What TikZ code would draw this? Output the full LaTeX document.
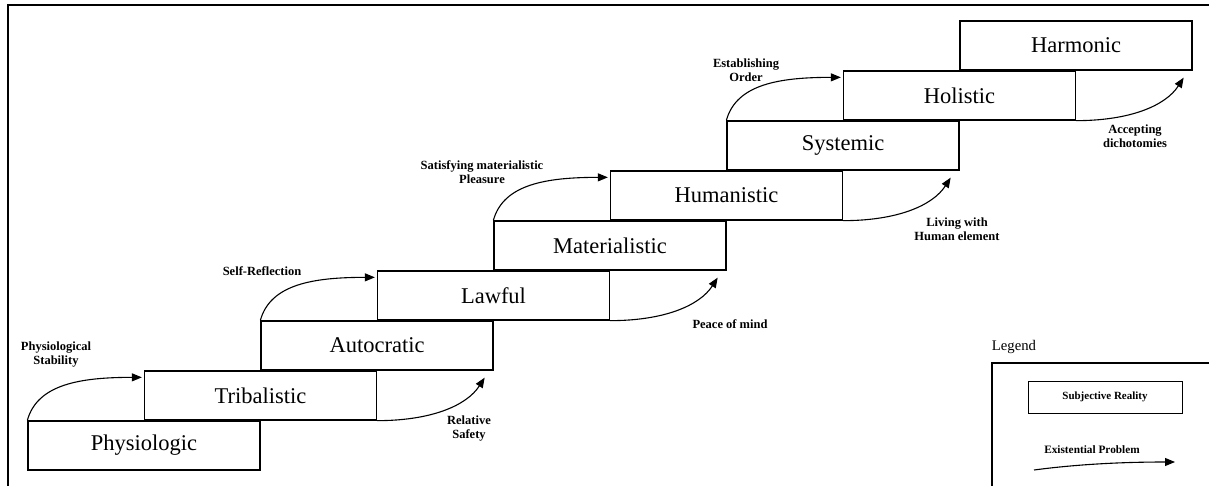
\documentclass[tikz,border=0pt]{standalone}
\usepackage{fontspec}
\setmainfont{Liberation Serif}
\usetikzlibrary{arrows.meta,calc}
\begin{document}
\begin{tikzpicture}[x=1pt,y=-1pt,
  stage/.style={draw, line width=1.3pt, minimum width=232pt, minimum height=49pt, inner sep=0pt, font=\fontsize{22.5}{27}\selectfont},
  lab/.style={font=\bfseries\fontsize{12.5}{14}\selectfont, align=center, inner sep=0pt},
  prob/.style={line width=1.1pt, -{Triangle[length=10pt,width=8pt]}},
]
\useasboundingbox (0,0) rectangle (1209,486);
\draw[line width=1.5pt] (1209,5) -- (8,5) -- (8,486);

\node[stage] (phys) at (144,445.5) {Physiologic};
\node[stage] (trib) at (260.5,395.5) {Tribalistic};
\node[stage] (auto) at (377,345.5) {Autocratic};
\node[stage] (law) at (493.5,295.5) {Lawful};
\node[stage] (mat) at (610,245.5) {Materialistic};
\node[stage] (hum) at (726.5,195.5) {Humanistic};
\node[stage] (sys) at (843,145.5) {Systemic};
\node[stage] (hol) at (959.5,95.5) {Holistic};
\node[stage] (harm) at (1076,45.5) {Harmonic};

% up arrows
\draw[prob] (phys.north west) .. controls +(10,-36) and +(-62,0) .. ($(trib.north west)+(-2,7)$);
\draw[prob] (auto.north west) .. controls +(10,-36) and +(-62,0) .. ($(law.north west)+(-2,7)$);
\draw[prob] (mat.north west) .. controls +(10,-36) and +(-62,0) .. ($(hum.north west)+(-2,7)$);
\draw[prob] (sys.north west) .. controls +(10,-36) and +(-62,0) .. ($(hol.north west)+(-2,7)$);

% right arrows
\draw[prob] (trib.south east) .. controls +(54,0) and +(-18,28) .. ($(auto.south east)+(-9,7)$);
\draw[prob] (law.south east) .. controls +(54,0) and +(-18,28) .. ($(mat.south east)+(-9,7)$);
\draw[prob] (hum.south east) .. controls +(54,0) and +(-18,28) .. ($(sys.south east)+(-9,7)$);
\draw[prob] (hol.south east) .. controls +(54,0) and +(-18,28) .. ($(harm.south east)+(-9,7)$);

% labels
\node[lab] (l1) at (56,355) {Physiological\\Stability};
\node[lab] (l2) at (262,271) {Self-Reflection};
\node[lab] (l3) at (482,172) {Satisfying materialistic\\Pleasure};
\node[lab] (l4) at (746,70) {Establishing\\Order};
\node[lab] (r1) at (469,429) {Relative\\Safety};
\node[lab] (r2) at (730,324) {Peace of mind};
\node[lab] (r3) at (957,229) {Living with\\Human element};
\node[lab] (r4) at (1135,136) {Accepting\\dichotomies};

% legend
\node[font=\fontsize{14.7}{17}\selectfont, inner sep=0pt] (legtitle) at (1014,347) {Legend};
\draw[line width=1.2pt] (1209,363) -- (992,363) -- (992,486);
\node[draw, line width=1pt, minimum width=154pt, minimum height=32pt, inner sep=0pt, font=\bfseries\fontsize{11}{13}\selectfont] (legbox) at (1105,397) {Subjective Reality};
\node[font=\bfseries\fontsize{11.3}{13}\selectfont, inner sep=0pt] (legtext) at (1092,450) {Existential Problem};
\coordinate (la) at (1034,470);
\coordinate (lb) at (1175,462);
\draw[prob] (la) .. controls +(45,-6) and +(-50,0) .. (lb);
\end{tikzpicture}
\end{document}
